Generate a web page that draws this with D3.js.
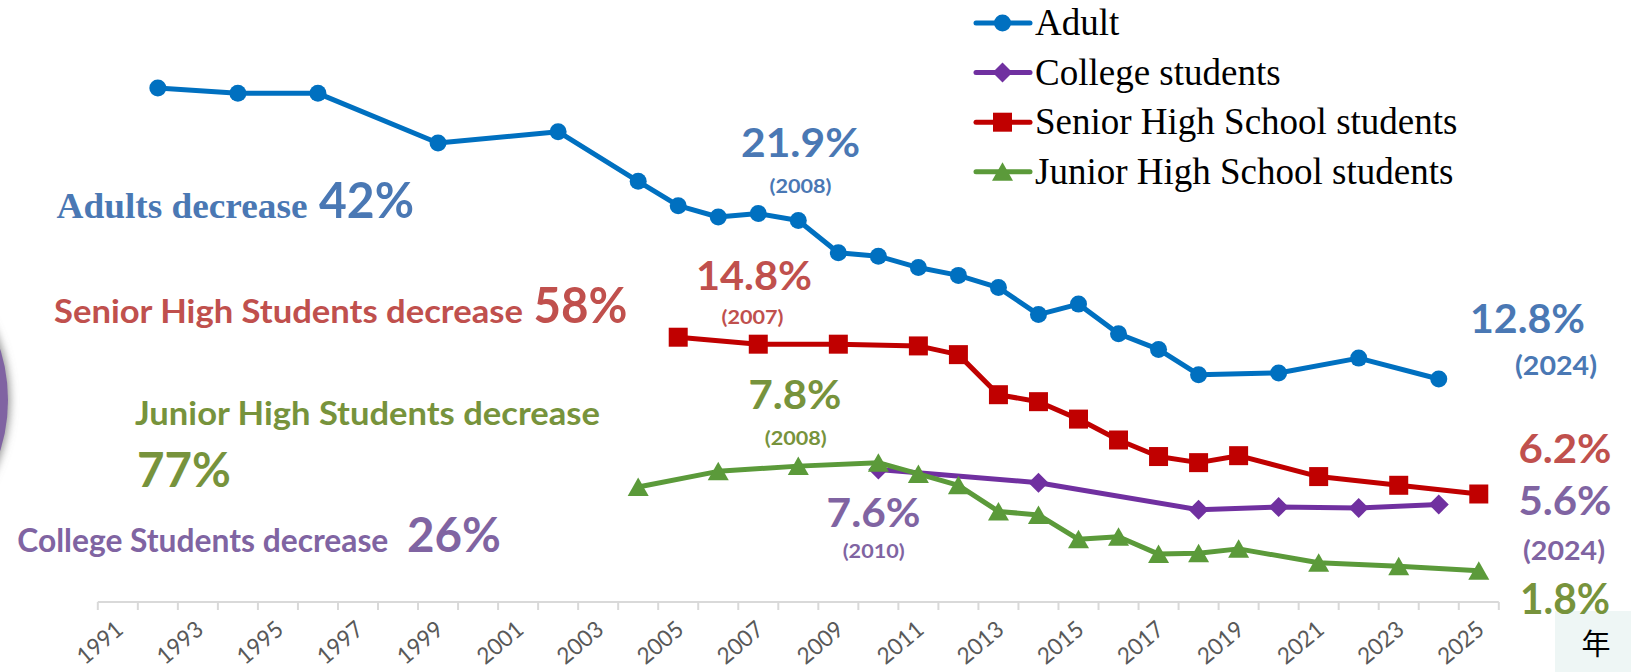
<!DOCTYPE html>
<html>
<head>
<meta charset="utf-8">
<script src="https://cdn.jsdelivr.net/npm/d3@7/dist/d3.min.js"></script>
<style>
  body { margin: 0; background: #fff; overflow: hidden; }
  svg { display: block; }
</style>
</head>
<body>
<div id="app"></div>
<script>
// categories on the x axis (one per year)
const years = [1991, 1992, 1993, 1994, 1995, 1996, 1997, 1998, 1999, 2000, 2001, 2002,
  2003, 2004, 2005, 2006, 2007, 2008, 2009, 2010, 2011, 2012, 2013, 2014, 2015, 2016,
  2017, 2018, 2019, 2020, 2021, 2022, 2023, 2024, 2025];
const tickLabels = ["1991", "1993", "1995", "1997", "1999", "2001", "2003", "2005", "2007",
  "2009", "2011", "2013", "2015", "2017", "2019", "2021", "2023", "2025"];

// series (smoking rate, %)
const adultYears = [1992, 1994, 1996, 1999, 2002, 2004, 2005, 2006, 2007, 2008, 2009, 2010,
  2011, 2012, 2013, 2014, 2015, 2016, 2017, 2018, 2020, 2022, 2024];
const adultValues = [29.5, 29.2, 29.2, 26.35, 27.0, 24.15, 22.75, 22.1, 22.3, 21.9, 20.05, 19.85,
  19.2, 18.75, 18.05, 16.5, 17.1, 15.4, 14.5, 13.05, 13.15, 14.0, 12.8];

const collegeYears = [2010, 2014, 2018, 2020, 2022, 2024];
const collegeValues = [7.6, 6.85, 5.3, 5.45, 5.4, 5.6];

const seniorYears = [2005, 2007, 2009, 2011, 2012, 2013, 2014, 2015, 2016, 2017, 2018, 2019,
  2021, 2023, 2025];
const seniorValues = [15.2, 14.8, 14.8, 14.7, 14.2, 11.9, 11.5, 10.5, 9.3, 8.35, 8.0, 8.4,
  7.2, 6.7, 6.2];

const juniorYears = [2004, 2006, 2008, 2010, 2011, 2012, 2013, 2014, 2015, 2016, 2017, 2018,
  2019, 2021, 2023, 2025];
const juniorValues = [6.6, 7.5, 7.8, 8.0, 7.35, 6.7, 5.2, 5.0, 3.6, 3.75, 2.75, 2.8,
  3.05, 2.25, 2.05, 1.8];

const seriesNames = ["Adult", "College students", "Senior High School students",
  "Junior High School students"];

// annotation texts
const changeNotes = ["Adults decrease", "Senior High Students decrease",
  "Junior High Students decrease", "College Students decrease"];
const changePcts = ["42%", "58%", "77%", "26%"];
const peakValues = ["21.9%", "14.8%", "7.8%", "7.6%"];
const peakYears = ["(2008)", "(2007)", "(2008)", "(2010)"];
const latestValues = ["12.8%", "6.2%", "5.6%", "1.8%"];
const latestYears = ["(2024)", "(2024)"];
const axisUnit = "年";

const W = 1631, H = 672;
const svg = d3.select("#app").append("svg").attr("width", W).attr("height", H);

const defs = svg.append("defs");
const shadow = defs.append("filter").attr("id", "shadow")
  .attr("x", "-20%").attr("y", "-20%").attr("width", "140%").attr("height", "140%");
shadow.append("feDropShadow").attr("dx", 2).attr("dy", 0).attr("stdDeviation", 4)
  .attr("flood-color", "#777").attr("flood-opacity", 0.8);

// decorative circle cut off by the left edge
svg.append("circle").attr("cx", -162).attr("cy", 400).attr("r", 170)
  .attr("fill", "#8064a2").attr("filter", "url(#shadow)");

//scales
const x = d3.scaleBand().domain(years).range([97.8, 1498.8]).padding(0);
const cx = (yr) => x(yr) + x.bandwidth() / 2;
const y = d3.scaleLinear().domain([0, 30]).range([602, 602 - 30 * 17.42]);

//axis
const axisG = svg.append("g");
axisG.append("line")
  .attr("x1", x.range()[0]).attr("x2", x.range()[1])
  .attr("y1", y(0)).attr("y2", y(0))
  .attr("stroke", "#d9d9d9").attr("stroke-width", 2);
axisG.selectAll(".tick")
  .data(years.concat(["end"]))
  .enter()
  .append("line")
  .attr("x1", (d) => (d === "end" ? x.range()[1] : x(d)))
  .attr("x2", (d) => (d === "end" ? x.range()[1] : x(d)))
  .attr("y1", y(0)).attr("y2", y(0) + 8)
  .attr("stroke", "#d9d9d9").attr("stroke-width", 2);
axisG.selectAll(".lbl")
  .data(tickLabels)
  .enter()
  .append("text")
  .attr("transform", (d) => `translate(${cx(+d) + 7},${y(0) + 30}) rotate(-40)`)
  .attr("text-anchor", "end")
  .attr("font-family", "Lato, sans-serif")
  .attr("font-size", 23)
  .attr("fill", "#595959")
  .attr("textLength", 52)
  .attr("lengthAdjust", "spacingAndGlyphs")
  .text((d) => d);

// unit box
svg.append("rect").attr("x", 1555).attr("y", 611).attr("width", W - 1555).attr("height", H - 611)
  .attr("fill", "#eef6f5");
svg.append("text").attr("x", 1596).attr("y", 655).attr("text-anchor", "middle")
  .attr("font-family", "'Noto Sans CJK TC', sans-serif").attr("font-size", 29)
  .attr("fill", "#000").text(axisUnit);

//series
const series = [
  { name: seriesNames[0], yrs: adultYears, vals: adultValues, color: "#0070c0", marker: "circle" },
  { name: seriesNames[1], yrs: collegeYears, vals: collegeValues, color: "#7030a0", marker: "diamond" },
  { name: seriesNames[2], yrs: seniorYears, vals: seniorValues, color: "#c00000", marker: "square" },
  { name: seriesNames[3], yrs: juniorYears, vals: juniorValues, color: "#5b9a3a", marker: "triangle" }
];

const markerPath = {
  circle: "M-8.5,0a8.5,8.5 0 1,0 17,0a8.5,8.5 0 1,0 -17,0Z",
  diamond: "M0,-10L10,0L0,10L-10,0Z",
  square: "M-9.5,-9.5H9.5V9.5H-9.5Z",
  triangle: "M0,-9.5L10.5,9L-10.5,9Z"
};

const line = d3.line().x((d) => cx(d[0])).y((d) => y(d[1]));

series.forEach((s) => {
  const pts = s.yrs.map((yr, i) => [yr, s.vals[i]]);
  const g = svg.append("g");
  g.append("path")
    .attr("d", line(pts))
    .attr("fill", "none")
    .attr("stroke", s.color)
    .attr("stroke-width", 5)
    .attr("stroke-linejoin", "round");
  g.selectAll("path.m")
    .data(pts)
    .enter()
    .append("path")
    .attr("class", "m")
    .attr("d", markerPath[s.marker])
    .attr("transform", (d) => `translate(${cx(d[0])},${y(d[1])})`)
    .attr("fill", s.color);
});

//legend
const legend = svg.append("g");
series.forEach((s, i) => {
  const ly = 23 + i * 49.6;
  legend.append("line").attr("x1", 976).attr("x2", 1030).attr("y1", ly).attr("y2", ly)
    .attr("stroke", s.color).attr("stroke-width", 5).attr("stroke-linecap", "round");
  legend.append("path").attr("d", markerPath[s.marker])
    .attr("transform", `translate(1002.5,${ly})`).attr("fill", s.color);
  legend.append("text").attr("x", 1035).attr("y", ly + 12)
    .attr("font-family", "'Liberation Serif', 'Times New Roman', serif")
    .attr("font-size", 37).attr("fill", "#000").text(s.name);
});

//annotations
const blue = "#4a78b4", red = "#c0504d", green = "#77933c", purple = "#8064a2";

function note(txt, px, py, size, len, color, anchor, serif) {
  svg.append("text")
    .attr("x", px).attr("y", py)
    .attr("text-anchor", anchor || "start")
    .attr("font-family", serif ? "'Liberation Serif', serif" : "Lato, sans-serif")
    .attr("font-weight", "bold")
    .attr("font-size", size)
    .attr("fill", color)
    .attr("textLength", len)
    .attr("lengthAdjust", "spacingAndGlyphs")
    .text(txt);
}

note(changeNotes[0], 56.5, 218, 35, 251, blue, "start", true);
note(changePcts[0], 319, 218, 49, 95, blue);
note(changeNotes[1], 54, 322.7, 32, 469, red);
note(changePcts[1], 533.5, 322.7, 49, 94, red);
note(changeNotes[2], 135, 425, 32, 465, green);
note(changePcts[2], 137, 486.7, 47, 94, green);
note(changeNotes[3], 17.3, 551.7, 32, 371, purple);
note(changePcts[3], 407, 551.7, 47, 94, purple);

note(peakValues[0], 800.5, 156.7, 40, 119, blue, "middle");
note(peakYears[0], 800.5, 193, 18.5, 62, blue, "middle");
note(peakValues[1], 754, 290, 40, 116, red, "middle");
note(peakYears[1], 752.5, 324, 18.5, 62, red, "middle");
note(peakValues[2], 795, 409, 40, 93, green, "middle");
note(peakYears[2], 795.8, 445, 18.5, 62, green, "middle");
note(peakValues[3], 873.6, 526.7, 40, 94, purple, "middle");
note(peakYears[3], 873.7, 558.3, 18.5, 62, purple, "middle");

note(latestValues[0], 1527.5, 333, 40, 115, blue, "middle");
note(latestYears[0], 1556, 375, 27, 82, blue, "middle");
note(latestValues[1], 1565, 463, 41, 93, red, "middle");
note(latestValues[2], 1565, 515, 41, 93, purple, "middle");
note(latestYears[1], 1564, 560, 27, 82, purple, "middle");
note(latestValues[3], 1565, 614, 42, 90, green, "middle");
</script>
</body>
</html>
